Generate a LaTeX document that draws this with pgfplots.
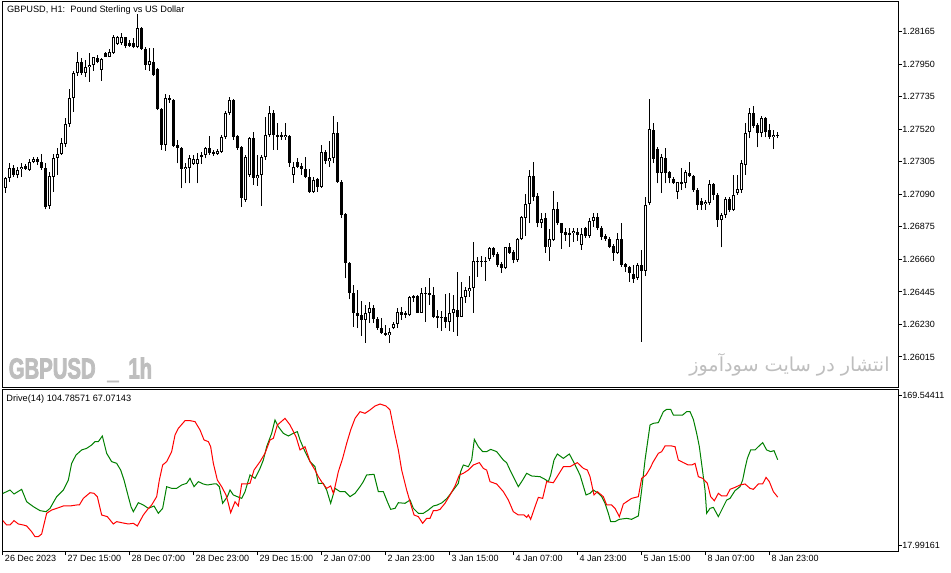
\documentclass[border=0pt]{standalone}
\usepackage{pgfplots}
\pgfplotsset{compat=1.18}
\usepackage{pgfplotstable}
\usepackage{fontspec}
\setmainfont{Liberation Sans}
\newfontfamily\arabicfont[Script=Arabic]{DejaVu Sans}
\newfontfamily\wmfont[FakeStretch=0.70, BoldFeatures={FakeBold=2.5}]{Liberation Sans}
\TeXXeTstate=1
\definecolor{wm}{RGB}{190,190,190}
\definecolor{drvgreen}{RGB}{0,128,0}
\definecolor{drvred}{RGB}{255,0,0}

% bullish (hollow) bars: hour index, open, high, low, close
\pgfplotstableread{
j O H L C
1 1.27130 1.27205 1.27099 1.27196
2 1.27196 1.27299 1.27174 1.27262
4 1.27218 1.27273 1.27196 1.27251
5 1.27256 1.27295 1.27207 1.27273
7 1.27251 1.27322 1.27246 1.27306
8 1.27306 1.27339 1.27295 1.27326
12 1.27013 1.27238 1.26993 1.27211
13 1.27205 1.27357 1.27106 1.27330
14 1.27330 1.27394 1.27218 1.27357
15 1.27357 1.27460 1.27350 1.27427
16 1.27423 1.27593 1.27405 1.27555
17 1.27555 1.27784 1.27537 1.27725
18 1.27725 1.27907 1.27636 1.27890
19 1.27890 1.28033 1.27872 1.27965
21 1.27894 1.27978 1.27864 1.27930
22 1.27930 1.28026 1.27835 1.27945
23 1.27945 1.28000 1.27907 1.27996
25 1.27912 1.27989 1.27841 1.27983
27 1.28000 1.28049 1.27996 1.28033
28 1.28026 1.28143 1.28018 1.28132
29 1.28084 1.28137 1.28077 1.28132
30 1.28088 1.28154 1.28077 1.28128
34 1.28066 1.28282 1.28055 1.28187
37 1.27945 1.28055 1.27907 1.27971
41 1.27416 1.27753 1.27378 1.27725
46 1.27256 1.27295 1.27163 1.27273
47 1.27262 1.27350 1.27163 1.27328
48 1.27295 1.27350 1.27284 1.27328
49 1.27295 1.27361 1.27163 1.27322
50 1.27339 1.27372 1.27291 1.27350
51 1.27350 1.27405 1.27328 1.27394
54 1.27357 1.27388 1.27350 1.27378
55 1.27372 1.27482 1.27365 1.27471
56 1.27471 1.27643 1.27454 1.27626
57 1.27626 1.27735 1.27614 1.27714
61 1.27053 1.27350 1.27040 1.27337
62 1.27218 1.27471 1.27205 1.27462
64 1.27196 1.27350 1.27145 1.27218
65 1.27218 1.27350 1.27013 1.27339
66 1.27339 1.27603 1.27317 1.27482
67 1.27482 1.27674 1.27469 1.27626
71 1.27467 1.27560 1.27449 1.27482
73 1.27218 1.27306 1.27167 1.27273
78 1.27108 1.27207 1.27101 1.27185
80 1.27141 1.27416 1.27132 1.27372
82 1.27312 1.27445 1.27269 1.27328
83 1.27328 1.27608 1.27295 1.27498
91 1.26260 1.26359 1.26110 1.26304
92 1.26304 1.26381 1.26238 1.26337
97 1.26161 1.26205 1.26106 1.26182
98 1.26205 1.26248 1.26198 1.26233
99 1.26233 1.26337 1.26205 1.26315
101 1.26299 1.26321 1.26271 1.26304
102 1.26293 1.26418 1.26288 1.26410
103 1.26410 1.26425 1.26381 1.26418
105 1.26308 1.26469 1.26306 1.26440
106 1.26436 1.26476 1.26248 1.26440
112 1.26248 1.26436 1.26189 1.26304
113 1.26304 1.26425 1.26182 1.26330
115 1.26281 1.26511 1.26278 1.26410
116 1.26410 1.26480 1.26374 1.26458
117 1.26453 1.26550 1.26414 1.26469
118 1.26469 1.26775 1.26308 1.26650
122 1.26661 1.26744 1.26652 1.26734
126 1.26601 1.26744 1.26595 1.26740
129 1.26656 1.26800 1.26645 1.26793
130 1.26793 1.26947 1.26788 1.26942
131 1.26938 1.27092 1.26815 1.27026
132 1.27026 1.27251 1.26899 1.27211
135 1.26903 1.26965 1.26866 1.26925
137 1.26740 1.26859 1.26652 1.26793
138 1.26788 1.27112 1.26782 1.26991
143 1.26833 1.26866 1.26777 1.26848
145 1.26755 1.26866 1.26722 1.26828
147 1.26815 1.26932 1.26800 1.26916
148 1.26916 1.26965 1.26876 1.26942
154 1.26704 1.26837 1.26696 1.26793
159 1.26535 1.26638 1.26524 1.26623
161 1.26585 1.27075 1.26550 1.27020
162 1.27033 1.27718 1.27020 1.27520
165 1.27233 1.27357 1.27101 1.27339
169 1.27106 1.27174 1.27057 1.27172
170 1.27163 1.27262 1.27119 1.27174
171 1.27167 1.27251 1.27130 1.27240
176 1.27026 1.27053 1.26987 1.27042
177 1.27031 1.27185 1.27020 1.27158
180 1.26921 1.26969 1.26740 1.26954
181 1.26954 1.27075 1.26934 1.27057
183 1.26987 1.27218 1.26980 1.27086
184 1.27097 1.27218 1.27086 1.27123
185 1.27119 1.27317 1.27099 1.27295
186 1.27284 1.27564 1.27218 1.27498
187 1.27502 1.27659 1.27460 1.27626
190 1.27498 1.27608 1.27467 1.27593
193 1.27467 1.27515 1.27388 1.27482
194 1.27476 1.27504 1.27460 1.27484
}\upbars

% bearish (filled) bars
\pgfplotstableread{
j O H L C
0 1.27251 1.27264 1.27218 1.27233
3 1.27262 1.27284 1.27205 1.27218
6 1.27277 1.27291 1.27251 1.27260
9 1.27322 1.27339 1.27284 1.27304
10 1.27306 1.27357 1.27251 1.27262
11 1.27262 1.27295 1.26991 1.27008
20 1.27965 1.27989 1.27879 1.27894
24 1.27989 1.28011 1.27956 1.27967
26 1.28022 1.28033 1.27996 1.28000
31 1.28128 1.28132 1.28055 1.28071
32 1.28092 1.28110 1.28064 1.28071
33 1.28092 1.28121 1.28055 1.28066
35 1.28187 1.28194 1.28044 1.28049
36 1.28049 1.28066 1.27912 1.27945
38 1.27967 1.28055 1.27872 1.27879
39 1.27918 1.27923 1.27647 1.27652
40 1.27652 1.27659 1.27383 1.27416
42 1.27725 1.27747 1.27694 1.27714
43 1.27714 1.27718 1.27405 1.27410
44 1.27416 1.27449 1.27295 1.27394
45 1.27394 1.27405 1.27130 1.27256
52 1.27394 1.27476 1.27350 1.27361
53 1.27372 1.27383 1.27344 1.27357
58 1.27714 1.27720 1.27449 1.27471
59 1.27476 1.27482 1.27383 1.27394
60 1.27405 1.27410 1.27008 1.27064
63 1.27462 1.27504 1.27152 1.27196
68 1.27626 1.27647 1.27383 1.27482
69 1.27482 1.27562 1.27383 1.27467
70 1.27482 1.27502 1.27449 1.27467
72 1.27476 1.27482 1.27273 1.27299
74 1.27306 1.27330 1.27264 1.27273
75 1.27277 1.27295 1.27218 1.27256
76 1.27256 1.27339 1.27196 1.27207
77 1.27207 1.27256 1.27101 1.27108
79 1.27190 1.27196 1.27108 1.27141
81 1.27372 1.27383 1.27291 1.27312
84 1.27498 1.27568 1.27165 1.27174
85 1.27174 1.27185 1.26932 1.26954
86 1.26960 1.26967 1.26535 1.26634
87 1.26634 1.26643 1.26396 1.26440
88 1.26440 1.26491 1.26215 1.26304
89 1.26304 1.26458 1.26205 1.26286
90 1.26293 1.26387 1.26154 1.26260
93 1.26337 1.26359 1.26242 1.26264
94 1.26264 1.26281 1.26194 1.26205
95 1.26205 1.26271 1.26167 1.26176
96 1.26176 1.26227 1.26154 1.26161
100 1.26315 1.26344 1.26260 1.26293
104 1.26418 1.26425 1.26304 1.26308
107 1.26440 1.26535 1.26359 1.26425
108 1.26425 1.26476 1.26271 1.26281
109 1.26286 1.26326 1.26205 1.26278
110 1.26281 1.26321 1.26189 1.26271
111 1.26278 1.26431 1.26205 1.26248
114 1.26326 1.26577 1.26154 1.26281
119 1.26650 1.26678 1.26546 1.26645
120 1.26650 1.26683 1.26608 1.26643
121 1.26650 1.26674 1.26519 1.26645
123 1.26734 1.26744 1.26674 1.26689
124 1.26696 1.26711 1.26608 1.26623
125 1.26628 1.26645 1.26572 1.26601
127 1.26740 1.26770 1.26696 1.26704
128 1.26711 1.26722 1.26634 1.26656
133 1.27211 1.27302 1.27048 1.27075
134 1.27079 1.27099 1.26872 1.26903
136 1.26932 1.26969 1.26704 1.26740
139 1.26991 1.27042 1.26888 1.26899
140 1.26899 1.26903 1.26727 1.26837
141 1.26843 1.26866 1.26784 1.26821
142 1.26837 1.26866 1.26744 1.26828
144 1.26843 1.26866 1.26784 1.26821
146 1.26866 1.26876 1.26800 1.26815
149 1.26942 1.26969 1.26854 1.26866
150 1.26866 1.26881 1.26788 1.26810
151 1.26815 1.26828 1.26784 1.26793
152 1.26793 1.26810 1.26734 1.26744
153 1.26749 1.26762 1.26652 1.26704
155 1.26793 1.26899 1.26612 1.26623
156 1.26630 1.26638 1.26579 1.26608
157 1.26608 1.26617 1.26513 1.26568
158 1.26568 1.26623 1.26506 1.26535
160 1.26623 1.26722 1.26116 1.26585
163 1.27515 1.27564 1.27297 1.27322
164 1.27388 1.27405 1.27163 1.27233
166 1.27328 1.27394 1.27163 1.27229
167 1.27240 1.27246 1.27163 1.27196
168 1.27196 1.27207 1.27158 1.27167
172 1.27233 1.27306 1.27203 1.27211
173 1.27211 1.27218 1.27108 1.27119
174 1.27119 1.27132 1.26987 1.27020
175 1.27048 1.27064 1.26987 1.27020
178 1.27158 1.27165 1.27053 1.27086
179 1.27086 1.27099 1.26876 1.26921
182 1.27057 1.27073 1.26973 1.26987
188 1.27626 1.27674 1.27527 1.27542
189 1.27548 1.27560 1.27401 1.27498
191 1.27593 1.27603 1.27467 1.27504
192 1.27515 1.27555 1.27454 1.27471
}\downbars

\pgfplotsset{
  mtpanel/.style={
    scale only axis, width=447.5pt, anchor=south west,
    xmin=0.325, xmax=224.075,
    axis line style={line width=0.5pt},
    tick align=outside, major tick length=2pt,
    tick style={black, line width=0.5pt},
    ytick pos=right, yticklabel pos=right,
    yticklabel style={anchor=west, inner sep=0pt, font=\fontsize{4.5pt}{5pt}\selectfont},
  },
  wick/.style={draw=none, mark=none, forget plot,
    error bars/.cd, y dir=plus, y explicit, error mark=none,
    error bar style={draw=black, line width=0.5pt}},
  body/.style 2 args={draw=none, mark=none, forget plot,
    error bars/.cd, y dir=both, y explicit, error mark=none,
    error bar style={draw=#1, line width=#2}},
}

\begin{document}
\begin{tikzpicture}
\path[use as bounding box] (0,0) rectangle (475.5pt,286pt);
\fill[white] (0,0) rectangle (475.5pt,286pt);

% price panel
\begin{axis}[mtpanel, at={(1.5pt,92pt)}, height=193pt,
  ymin=1.25810, ymax=1.28361,
  xtick=\empty,
  ytick={1.26015,1.26230,1.26445,1.26660,1.26875,1.27090,1.27305,1.27520,1.27735,1.27950,1.28165},
  yticklabels={1.26015,1.26230,1.26445,1.26660,1.26875,1.27090,1.27305,1.27520,1.27735,1.27950,1.28165},
]
\addplot[wick] table[x=j, y=L, y error expr=\thisrow{H}-\thisrow{L}] {\upbars};
\addplot[wick] table[x=j, y=L, y error expr=\thisrow{H}-\thisrow{L}] {\downbars};
\addplot[body={black}{1.4pt}]
  table[x=j, y expr=(\thisrow{O}+\thisrow{C})/2,
        y error expr={max(abs(\thisrow{O}-\thisrow{C})/2,0.000035)}] {\downbars};
\addplot[body={black}{1.4pt}]
  table[x=j, y expr=(\thisrow{O}+\thisrow{C})/2,
        y error expr={max(abs(\thisrow{O}-\thisrow{C})/2,0.000035)}] {\upbars};
\addplot[body={white}{0.45pt}]
  table[x=j, y expr=(\thisrow{O}+\thisrow{C})/2,
        y error expr={max(abs(\thisrow{O}-\thisrow{C})/2-0.000066,0)}] {\upbars};
\end{axis}

% indicator panel
\begin{axis}[mtpanel, at={(1.5pt,10.5pt)}, height=80.5pt,
  ymin=12.61, ymax=175.27,
  xtick pos=left, xticklabel pos=left,
  xtick={0.325,16,32,48,64,80,96,112,128,144,160,176,192},
  xticklabels={26 Dec 2023,27 Dec 15:00,28 Dec 07:00,28 Dec 23:00,29 Dec 15:00,2 Jan 07:00,2 Jan 23:00,3 Jan 15:00,4 Jan 07:00,4 Jan 23:00,5 Jan 15:00,8 Jan 07:00,8 Jan 23:00},
  xticklabel style={anchor=north west, inner sep=0pt, xshift=0.8pt, font=\fontsize{4.5pt}{5pt}\selectfont},
  ytick={17.99161,169.54411},
  yticklabels={17.99161,169.54411},
]
\addplot[drvgreen, line width=0.5pt] coordinates {
(0,70.2)(2.08,74.2)(3.08,70.2)(4.99,74.9)(6.24,62.4)(7.91,57.4)(9.58,53.4)(11.08,52.3)(12.08,55.7)(13.74,67.5)(15.41,74.2)(16.66,84.3)(17.49,101.2)(18.58,109.6)(19.99,114.7)(21.24,116.3)(22.49,119.7)(23.33,123.1)(24.16,123.1)(25.16,128.8)(26.24,111.3)(27.49,102.9)(28.74,101.2)(29.74,94.4)(30.58,84.3)(31.66,67.5)(32.33,57.4)(32.91,52.3)(34.16,61.4)(35.41,59.1)(36.66,55.7)(38.08,58.1)(39.16,50.7)(40.24,55.7)(41.24,77.6)(42.49,75.9)(43.74,75.9)(44.99,79.3)(46.24,81.0)(47.08,86.0)(48.08,77.6)(49.16,82.7)(50.41,80.3)(51.41,79.3)(52.91,80.3)(53.74,80.3)(54.41,77.6)(55.24,60.8)(56.41,67.5)(57.08,74.2)(57.91,69.2)(58.91,67.5)(59.99,65.8)(60.83,72.6)(62.08,89.4)(63.33,86.0)(64.58,96.1)(65.41,104.5)(66.24,118.0)(67.49,131.5)(68.33,145.0)(69.16,138.2)(70.41,131.5)(71.66,128.8)(72.91,131.5)(73.91,133.2)(74.58,124.8)(75.83,113.0)(77.08,102.9)(78.33,97.8)(79.16,81.0)(80.41,81.0)(81.24,74.2)(82.24,60.8)(83.33,75.9)(84.58,72.6)(85.83,72.6)(87.08,67.5)(88.33,70.9)(89.58,77.6)(90.41,82.7)(91.24,89.4)(93.08,90.1)(94.16,72.6)(95.41,72.6)(96.41,62.4)(97.24,54.7)(98.33,55.7)(99.16,61.4)(100.83,60.8)(102.08,64.1)(102.91,55.7)(104.16,50.7)(105.41,50.7)(106.66,54.0)(107.91,58.1)(108.91,59.1)(110.08,61.4)(111.33,65.8)(112.91,74.2)(114.16,81.0)(114.74,92.8)(115.41,99.5)(116.66,97.8)(117.49,104.5)(118.16,125.4)(119.16,118.0)(120.24,113.0)(121.24,113.0)(122.24,115.3)(123.74,113.0)(125.41,104.5)(126.24,101.8)(127.08,94.4)(128.33,84.3)(129.16,77.6)(130.24,84.3)(131.24,91.1)(132.49,88.4)(134.58,87.7)(135.83,85.0)(136.66,82.7)(137.24,89.4)(138.08,104.5)(138.91,110.6)(140.41,106.2)(141.91,110.6)(143.08,101.8)(144.58,89.4)(146.08,69.2)(147.08,70.9)(147.91,74.2)(149.16,70.9)(149.99,67.5)(150.83,60.8)(151.66,50.7)(152.24,42.3)(153.33,42.3)(154.41,44.6)(156.24,45.6)(157.49,44.6)(159.16,48.0)(159.99,74.2)(160.83,104.5)(162.08,139.9)(162.91,141.6)(164.16,142.3)(165.41,153.4)(166.24,155.7)(167.24,155.7)(167.91,150.0)(169.16,150.0)(170.24,150.0)(171.24,153.4)(172.08,153.4)(172.91,145.6)(173.74,131.5)(174.41,118.0)(175.24,92.8)(175.83,74.2)(176.24,50.7)(177.08,55.7)(177.91,56.7)(179.16,47.3)(179.99,54.0)(181.24,64.1)(182.08,65.8)(183.33,73.6)(184.58,77.6)(185.24,84.3)(185.83,96.1)(186.41,106.2)(187.24,114.7)(188.33,114.7)(189.16,118.0)(190.24,122.1)(191.24,114.7)(192.24,113.0)(193.08,114.0)(194,104.79)
};
\addplot[drvred, line width=0.5pt] coordinates {
(0,44.6)(1.24,38.9)(2.08,38.9)(3.08,43.3)(4.16,39.9)(5.41,38.9)(6.24,37.9)(7.49,32.1)(8.33,27.1)(9.16,27.1)(9.99,29.8)(11.24,50.7)(12.49,54.0)(13.74,55.7)(15.41,58.1)(17.08,58.1)(18.74,59.1)(19.41,59.1)(20.41,65.8)(22.08,71.5)(23.08,70.9)(23.91,67.5)(24.99,49.0)(26.41,47.3)(27.91,39.9)(28.74,42.3)(29.99,41.2)(31.66,39.9)(32.91,40.6)(33.91,37.9)(35.41,49.0)(36.49,54.7)(37.49,59.1)(38.74,67.5)(39.41,84.3)(40.24,99.5)(41.24,102.9)(42.49,113.0)(43.33,129.8)(44.16,136.5)(45.83,144.3)(47.08,144.3)(48.33,143.3)(49.58,134.9)(50.58,124.8)(51.66,123.1)(52.24,118.0)(52.91,101.2)(53.91,84.3)(54.99,77.6)(56.08,69.2)(56.66,60.8)(57.24,51.3)(58.33,62.4)(59.16,58.1)(59.99,80.3)(61.24,80.3)(62.08,81.0)(63.08,94.4)(64.58,102.9)(65.83,111.3)(67.08,124.8)(67.91,126.4)(68.91,139.9)(70.83,146.6)(72.08,139.9)(73.58,128.1)(74.58,114.7)(75.83,118.0)(77.08,102.9)(78.33,94.4)(79.16,87.7)(80.24,81.0)(81.24,75.9)(82.24,78.3)(82.91,70.9)(83.33,77.6)(84.16,92.8)(85.24,106.2)(86.24,121.4)(87.24,134.9)(88.33,146.6)(89.58,153.4)(90.83,151.7)(92.08,155.1)(93.33,159.1)(94.58,161.1)(96.08,159.1)(97.08,155.1)(98.08,134.9)(99.16,114.7)(99.99,94.4)(101.24,74.2)(102.08,62.4)(103.08,49.0)(104.16,47.3)(105.24,40.6)(106.24,45.6)(107.08,45.6)(107.91,53.4)(108.74,53.4)(109.58,54.7)(110.83,60.8)(112.08,69.2)(113.33,78.3)(114.41,89.4)(115.41,91.1)(116.66,94.4)(117.91,99.5)(119.41,101.9)(120.41,96.1)(121.24,94.4)(122.08,82.7)(123.74,80.3)(125.41,72.6)(126.66,64.1)(127.91,52.3)(129.16,49.0)(130.58,49.0)(131.24,46.6)(131.66,49.0)(132.24,44.6)(133.33,57.4)(134.16,66.8)(135.24,65.8)(136.24,82.7)(137.91,81.6)(140.41,97.8)(142.08,97.8)(143.91,101.9)(145.41,96.1)(146.41,94.4)(147.08,87.7)(148.08,69.2)(148.91,72.6)(150.41,67.5)(151.24,59.1)(152.49,59.1)(153.33,55.7)(154.41,47.3)(155.41,60.1)(156.24,62.4)(157.49,65.8)(159.16,67.5)(159.99,86.0)(161.08,89.4)(162.08,96.1)(162.91,102.9)(164.16,111.3)(164.99,113.0)(165.83,118.7)(167.49,118.7)(168.33,118.0)(169.16,104.5)(170.41,101.9)(171.66,99.5)(172.49,99.5)(173.33,101.2)(174.16,87.7)(175.24,86.0)(176.41,81.0)(177.24,67.5)(178.16,63.4)(179.16,70.9)(179.99,68.2)(181.24,68.2)(182.08,74.9)(183.33,76.9)(184.58,79.3)(185.83,80.3)(187.08,75.9)(187.91,74.9)(189.16,80.3)(190.24,80.3)(191.08,87.0)(191.91,82.7)(192.91,72.6)(194,67.07)
};
\end{axis}

% texts
\node[anchor=base west, inner sep=0pt, font=\fontsize{4.6pt}{5pt}\selectfont]
  at (3.3pt,279.9pt) {GBPUSD, H1:\ \ Pound Sterling vs US Dollar};
\node[anchor=base west, inner sep=0pt, font=\fontsize{4.6pt}{5pt}\selectfont]
  at (3pt,85.25pt) {Drive(14) 104.78571 67.07143};
\node[anchor=base west, inner sep=0pt, text=wm, font=\wmfont\bfseries\fontsize{14.5pt}{15pt}\selectfont]
  at (4.2pt,96.75pt) {GBPUSD};
\node[anchor=base west, inner sep=0pt, text=wm, font=\wmfont\bfseries\fontsize{14.5pt}{15pt}\selectfont]
  at (53.5pt,96.75pt) {\_};
\node[anchor=base west, inner sep=0pt, text=wm, font=\wmfont\bfseries\fontsize{14.5pt}{15pt}\selectfont]
  at (64pt,96.75pt) {1h};
\node[anchor=base east, inner sep=0pt, text=wm, font=\arabicfont\fontsize{9.6pt}{10pt}\selectfont]
  at (445pt,100pt) {\beginR انتشار در سایت سودآموز\endR};
\end{tikzpicture}
\end{document}
